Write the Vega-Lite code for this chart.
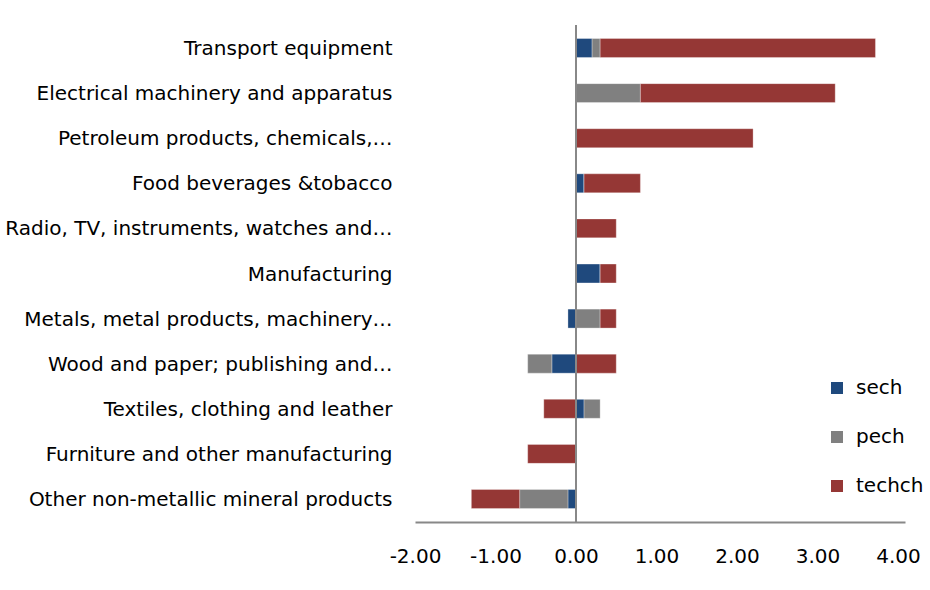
{
  "$schema": "https://vega.github.io/schema/vega-lite/v6.json",
  "width": 490,
  "height": 497,
  "autosize": {"type": "none"},
  "padding": {"left": 415, "top": 25, "right": 25, "bottom": 68},
  "background": "white",
  "config": {"view": {"stroke": null}, "font": "DejaVu Sans"},
  "data": {
    "values": [
      {"sector": "Transport equipment", "component": "sech", "value": 0.2, "ord": 1},
      {"sector": "Transport equipment", "component": "pech", "value": 0.1, "ord": 2},
      {"sector": "Transport equipment", "component": "techch", "value": 3.42, "ord": 3},
      {"sector": "Electrical machinery and apparatus", "component": "sech", "value": 0.0, "ord": 1},
      {"sector": "Electrical machinery and apparatus", "component": "pech", "value": 0.8, "ord": 2},
      {"sector": "Electrical machinery and apparatus", "component": "techch", "value": 2.42, "ord": 3},
      {"sector": "Petroleum products, chemicals,…", "component": "sech", "value": 0.0, "ord": 1},
      {"sector": "Petroleum products, chemicals,…", "component": "pech", "value": 0.0, "ord": 2},
      {"sector": "Petroleum products, chemicals,…", "component": "techch", "value": 2.2, "ord": 3},
      {"sector": "Food beverages &tobacco", "component": "sech", "value": 0.1, "ord": 1},
      {"sector": "Food beverages &tobacco", "component": "pech", "value": 0.0, "ord": 2},
      {"sector": "Food beverages &tobacco", "component": "techch", "value": 0.7, "ord": 3},
      {"sector": "Radio, TV, instruments, watches and…", "component": "sech", "value": 0.0, "ord": 1},
      {"sector": "Radio, TV, instruments, watches and…", "component": "pech", "value": 0.0, "ord": 2},
      {"sector": "Radio, TV, instruments, watches and…", "component": "techch", "value": 0.5, "ord": 3},
      {"sector": "Manufacturing", "component": "sech", "value": 0.3, "ord": 1},
      {"sector": "Manufacturing", "component": "pech", "value": 0.0, "ord": 2},
      {"sector": "Manufacturing", "component": "techch", "value": 0.2, "ord": 3},
      {"sector": "Metals, metal products, machinery…", "component": "sech", "value": -0.1, "ord": 1},
      {"sector": "Metals, metal products, machinery…", "component": "pech", "value": 0.3, "ord": 2},
      {"sector": "Metals, metal products, machinery…", "component": "techch", "value": 0.2, "ord": 3},
      {"sector": "Wood and paper; publishing and…", "component": "sech", "value": -0.3, "ord": 1},
      {"sector": "Wood and paper; publishing and…", "component": "pech", "value": -0.3, "ord": 2},
      {"sector": "Wood and paper; publishing and…", "component": "techch", "value": 0.5, "ord": 3},
      {"sector": "Textiles, clothing and leather", "component": "sech", "value": 0.1, "ord": 1},
      {"sector": "Textiles, clothing and leather", "component": "pech", "value": 0.2, "ord": 2},
      {"sector": "Textiles, clothing and leather", "component": "techch", "value": -0.4, "ord": 3},
      {"sector": "Furniture and other manufacturing", "component": "sech", "value": 0.0, "ord": 1},
      {"sector": "Furniture and other manufacturing", "component": "pech", "value": 0.0, "ord": 2},
      {"sector": "Furniture and other manufacturing", "component": "techch", "value": -0.6, "ord": 3},
      {"sector": "Other non-metallic mineral products", "component": "sech", "value": -0.1, "ord": 1},
      {"sector": "Other non-metallic mineral products", "component": "pech", "value": -0.6, "ord": 2},
      {"sector": "Other non-metallic mineral products", "component": "techch", "value": -0.6, "ord": 3}
    ]
  },
  "layer": [
    {
      "mark": {"type": "bar", "stroke": "white", "strokeWidth": 0.5, "strokeOpacity": 0.6},
      "encoding": {
        "y": {
          "field": "sector", "type": "nominal", "sort": null,
          "scale": {"paddingInner": 0.58, "paddingOuter": 0.3},
          "axis": {"title": null, "domain": false, "ticks": false, "labelFontSize": 20, "labelPadding": 23, "labelColor": "black", "labelLimit": 500, "labelOffset": 1}
        },
        "x": {
          "field": "value", "type": "quantitative", "stack": "zero",
          "scale": {"domain": [-2, 4.087], "nice": false, "zero": false},
          "axis": {"title": null, "values": [-2, -1, 0, 1, 2, 3, 4], "labelFlush": false, "labelExpr": "datum.value < 0 ? '-' + format(-datum.value, '.2f') : format(datum.value, '.2f')", "grid": false, "ticks": false, "domainColor": "#888888", "domainWidth": 2, "labelFontSize": 20, "labelPadding": 24, "labelColor": "black"}
        },
        "color": {
          "field": "component", "type": "nominal",
          "scale": {"domain": ["sech", "pech", "techch"], "range": ["#1F497D", "#808080", "#953735"]},
          "legend": {"title": null, "orient": "none", "legendX": 412, "legendY": 353, "symbolType": "square", "symbolSize": 144, "symbolStrokeWidth": 0, "labelFontSize": 20, "labelColor": "black", "rowPadding": 29, "labelOffset": 9}
        },
        "order": {"field": "ord", "type": "quantitative"}
      }
    },
    {
      "data": {"values": [{"zero": 0}]},
      "mark": {"type": "rule", "color": "#888888", "strokeWidth": 2},
      "encoding": {"x": {"field": "zero", "type": "quantitative"}}
    }
  ]
}
